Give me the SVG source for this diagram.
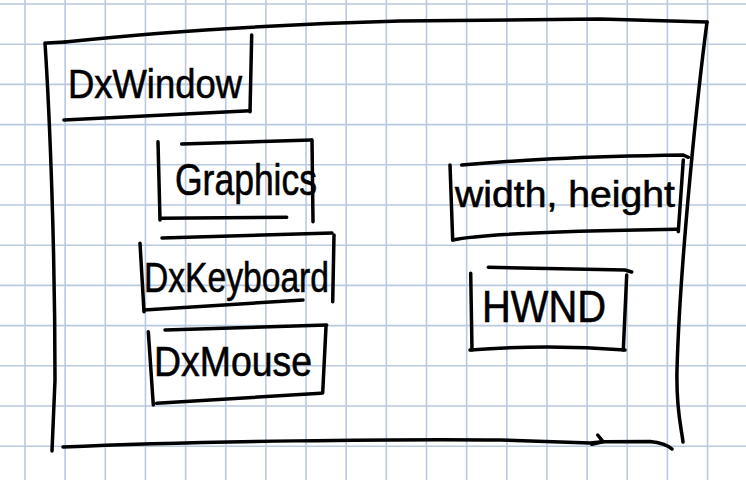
<svg xmlns="http://www.w3.org/2000/svg" width="746" height="480" viewBox="0 0 746 480">
<style>
.grid{fill:none;stroke:#b9c9e0;stroke-width:1.6}
.ink{fill:none;stroke:#000;stroke-width:3.5;stroke-linecap:round;stroke-linejoin:round}
.lbl{font-family:"Liberation Sans","DejaVu Sans",sans-serif;fill:#000;stroke:#000;stroke-width:0.6}
</style>
<rect width="746" height="480" fill="#fff"/>
<g id="grid">
<path class="grid" d="M25,0V480M65.15,0V480M105.3,0V480M145.45,0V480M185.6,0V480M225.75,0V480M265.9,0V480M306.05,0V480M346.2,0V480M386.35,0V480M426.5,0V480M466.65,0V480M506.8,0V480M546.95,0V480M587.1,0V480M627.25,0V480M667.4,0V480M707.55,0V480"/>
<path class="grid" d="M0,4H746M0,44.2H746M0,84.4H746M0,124.6H746M0,164.8H746M0,205H746M0,245.2H746M0,285.4H746M0,325.6H746M0,365.8H746M0,406H746M0,446.2H746"/>
</g>
<g id="window-frame">
<path class="ink" d="M45,43 C50,120 55,250 55,380 L52,451"/>
<path class="ink" d="M47,43 L65,42"/>
<path class="ink" d="M65,42 C150,33 260,25 400,21 L600,19 L707,22"/>
<path class="ink" d="M707,22 C698,90 680,260 677,370 C676,410 681,425 683,442"/>
<path class="ink" d="M63,447 C200,441 400,439 500,440 L590,443 L603,441.7 L650,441.5 Q665,443 672,449"/>
<path class="ink" d="M597.7,435 L603,441.7 L591.7,444.3"/>
</g>
<g id="node-dxwindow">
<path class="ink" d="M251.7,35 L250,111.7"/>
<path class="ink" d="M64,120 Q140,116 250,110.7"/>
<text class="lbl" x="68" y="98" font-size="40" textLength="174" lengthAdjust="spacingAndGlyphs">DxWindow</text>
</g>
<g id="node-graphics">
<path class="ink" d="M158,141.7 L160,220"/>
<path class="ink" d="M181.7,144 L311.7,140"/>
<path class="ink" d="M312,140 L313,221.7"/>
<path class="ink" d="M160.7,218.3 L286.7,217.3"/>
<text class="lbl" x="175" y="195" font-size="44" textLength="142" lengthAdjust="spacingAndGlyphs">Graphics</text>
</g>
<g id="node-dxkeyboard">
<path class="ink" d="M162,238 L332,233"/>
<path class="ink" d="M334,235 L332.7,301.7"/>
<path class="ink" d="M140,243.3 L144,311.7"/>
<path class="ink" d="M144,310 L303,300"/>
<text class="lbl" x="144" y="292" font-size="42" textLength="185" lengthAdjust="spacingAndGlyphs">DxKeyboard</text>
</g>
<g id="node-dxmouse">
<path class="ink" d="M165,330 L326.7,325"/>
<path class="ink" d="M148.3,331.7 L153.3,405"/>
<path class="ink" d="M326,326.7 L322.7,393"/>
<path class="ink" d="M156.7,403.3 L320.7,393.3"/>
<text class="lbl" x="154" y="376" font-size="42" textLength="158" lengthAdjust="spacingAndGlyphs">DxMouse</text>
</g>
<g id="node-width-height">
<path class="ink" d="M461.7,165 C520,160 573,156.7 683.3,155 L688.3,157.3"/>
<path class="ink" d="M450,165 L452.7,240"/>
<path class="ink" d="M452.7,240 Q490,232 676.7,229.3"/>
<path class="ink" d="M683.3,160 L678.3,231.7"/>
<text class="lbl" x="455" y="207" font-size="37" textLength="220" lengthAdjust="spacingAndGlyphs">width, height</text>
</g>
<g id="node-hwnd">
<path class="ink" d="M488.3,267.3 L625,270 L631.7,272"/>
<path class="ink" d="M470.7,273.3 L472,350"/>
<path class="ink" d="M626.7,275 L623.3,350"/>
<path class="ink" d="M470,350 Q548,344 625,350"/>
<text class="lbl" x="482" y="322" font-size="44" textLength="124" lengthAdjust="spacingAndGlyphs">HWND</text>
</g>
<g id="connectors"/>
</svg>
